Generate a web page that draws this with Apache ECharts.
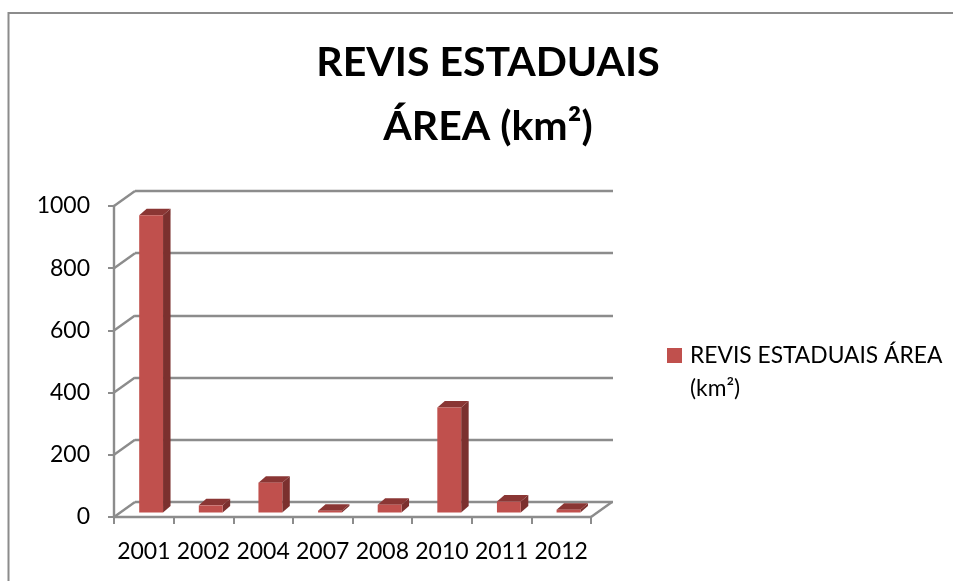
<!DOCTYPE html>
<html>
<head>
<meta charset="utf-8">
<style>html,body{margin:0;padding:0;background:#fff}#chart{width:953px;height:581px}</style>
<script src="https://cdn.jsdelivr.net/npm/echarts@6/dist/echarts.min.js"></script>
</head>
<body>
<div id="chart"></div>
<script>
const categories = ['2001', '2002', '2004', '2007', '2008', '2010', '2011', '2012'];
const areaValues = [956, 23, 96, 6, 25, 338, 35, 9];
const valueTicks = [0, 200, 400, 600, 800, 1000];
const seriesName = 'REVIS ESTADUAIS ÁREA (km²)';

const FONT = 'Lato';
const WALL = '#8c8c8c';
// falso 3D: deslocamento da parede do fundo e da barra
const DEPTH_X = 21, DEPTH_Y = -15;
const BAR_X = 7.3, BAR_Y = -4.5, BAR_DX = 7.5, BAR_DY = -6.5;

function renderWall(params, api) {
	const rect = params.coordSys;
	const y = api.coord([0, api.value(0)])[1];
	const lineStyle = { stroke: WALL, lineWidth: 2.4 };
	const children = [{
		type: 'line',
		shape: { x1: rect.x, y1: y, x2: rect.x + DEPTH_X, y2: y + DEPTH_Y },
		style: lineStyle
	}];
	// fechamento do piso, lado direito
	if (api.value(0) === 0) {
		children.push({
			type: 'line',
			shape: { x1: rect.x + rect.width, y1: y, x2: rect.x + rect.width + DEPTH_X, y2: y + DEPTH_Y },
			style: lineStyle
		});
	}
	return { type: 'group', children: children };
}

function renderBar(params, api) {
	const base = api.coord([api.value(0), 0]);
	const top = api.coord([api.value(0), api.value(1)]);
	const half = api.size([1, 0])[0] * 0.2;
	const l = base[0] + BAR_X - half, r = base[0] + BAR_X + half;
	const b = base[1] + BAR_Y, t = top[1] + BAR_Y;
	return {
		type: 'group',
		children: [
			{ type: 'polygon', shape: { points: [[r, b], [r + BAR_DX, b + BAR_DY], [r + BAR_DX, t + BAR_DY], [r, t]] }, style: { fill: '#7b302e' } },
			{ type: 'polygon', shape: { points: [[l, t], [r, t], [r + BAR_DX, t + BAR_DY], [l + BAR_DX, t + BAR_DY]] }, style: { fill: '#8a3634' } },
			{ type: 'rect', shape: { x: l, y: t, width: r - l, height: b - t }, style: { fill: '#c0504d' } }
		]
	};
}

const myChart = echarts.init(document.getElementById('chart'));
myChart.setOption({
	animation: false,
	backgroundColor: '#fff',
	textStyle: { fontFamily: FONT },
	title: {
		text: 'REVIS ESTADUAIS\nÁREA (km²)',
		left: 483,
		top: 26,
		textAlign: 'center',
		textStyle: { fontFamily: FONT, fontSize: 41, fontWeight: 'bold', color: '#000', lineHeight: 64 }
	},
	legend: {
		left: 667,
		top: 306,
		padding: 0,
		icon: 'rect',
		itemWidth: 15,
		itemHeight: 15,
		data: [seriesName],
		// linha vazia acima para o marcador ficar na altura da primeira linha
		formatter: () => '\nREVIS ESTADUAIS ÁREA\n(km²)',
		textStyle: { fontFamily: FONT, fontSize: 22.8, color: '#000', lineHeight: 33, padding: [0, 0, 0, 3] }
	},
	graphic: [{
		type: 'rect',
		silent: true,
		shape: { x: 8.5, y: 13, width: 1000, height: 700 },
		style: { fill: 'none', stroke: '#8c8c8c', lineWidth: 2 },
		z: 0
	}],
	grid: [
		{ left: 114, top: 206, width: 477, height: 311 },
		{ left: 114 + DEPTH_X, top: 206 + DEPTH_Y, width: 478, height: 311 }
	],
	xAxis: [
		{
			type: 'category',
			gridIndex: 0,
			data: categories,
			axisLine: { lineStyle: { color: WALL, width: 2.4 } },
			axisTick: { show: true, length: 7, lineStyle: { color: WALL, width: 2 } },
			axisLabel: { color: '#000', fontSize: 23, fontFamily: FONT, margin: 23, interval: 0 },
			z: 3
		},
		{ type: 'category', gridIndex: 1, data: categories, show: false }
	],
	yAxis: [
		{
			type: 'value',
			gridIndex: 0,
			min: 0,
			max: 1000,
			interval: 200,
			splitLine: { show: false },
			axisLine: { show: true, lineStyle: { color: WALL, width: 2.4 } },
			axisTick: { show: true, length: 6, lineStyle: { color: WALL, width: 2 } },
			axisLabel: { color: '#000', fontSize: 23, fontFamily: FONT, margin: 24, formatter: v => String(v) },
			z: 3
		},
		{
			type: 'value',
			gridIndex: 1,
			min: 0,
			max: 1000,
			interval: 200,
			axisLine: { show: false },
			axisTick: { show: false },
			axisLabel: { show: false },
			splitLine: { show: true, lineStyle: { color: WALL, width: 2.4 } }
		}
	],
	series: [
		{
			type: 'custom',
			name: 'walls',
			xAxisIndex: 0,
			yAxisIndex: 0,
			silent: true,
			z: 1,
			renderItem: renderWall,
			data: valueTicks.map(v => [v]),
			encode: { y: 0 }
		},
		{
			type: 'custom',
			name: seriesName,
			xAxisIndex: 0,
			yAxisIndex: 0,
			z: 5,
			itemStyle: { color: '#c0504d' },
			renderItem: renderBar,
			data: areaValues.map((v, i) => [i, v]),
			encode: { x: 0, y: 1 }
		}
	]
});
</script>
</body>
</html>
